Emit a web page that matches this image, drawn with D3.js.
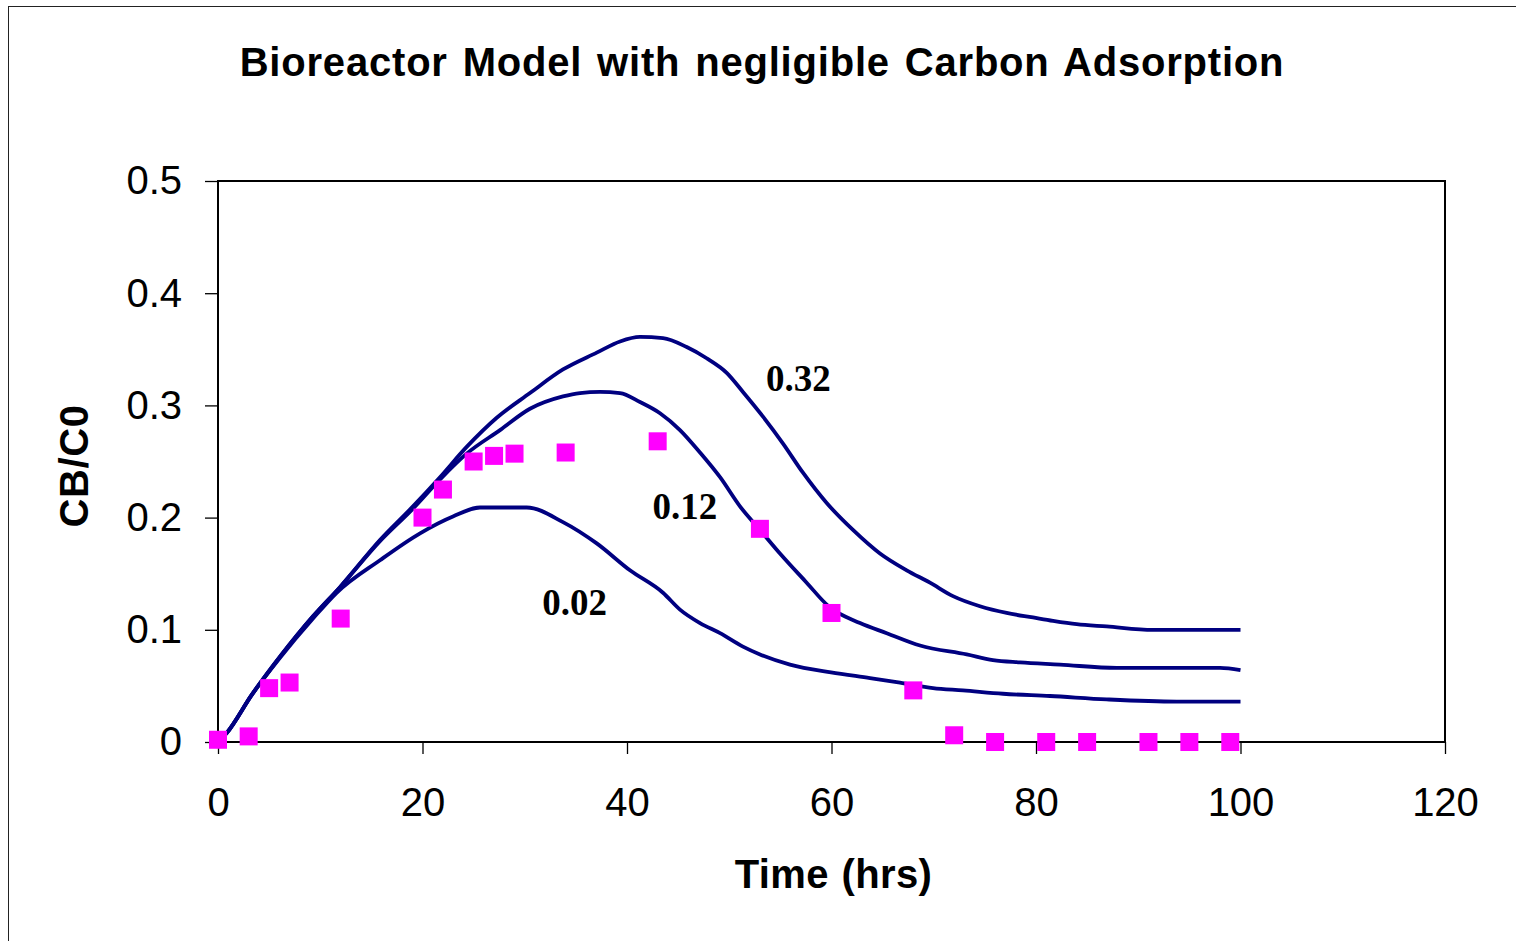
<!DOCTYPE html>
<html lang="en">
<head>
<meta charset="UTF-8">
<title>Bioreactor Model</title>
<script src="https://cdn.jsdelivr.net/npm/d3@7"></script>
<style>
  body { margin: 0; background: #fff; }
</style>
</head>
<body>
<svg id="chart" width="1516" height="941"></svg>
<script>
// measured points, CB/C0 vs time
const obsTime = [0, 3, 5, 7, 12, 20, 22, 25, 27, 29, 34, 43, 53, 60, 68, 72, 76, 81, 85, 91, 95, 99];
const obsConc = [0.002, 0.005, 0.048, 0.053, 0.11, 0.2, 0.225, 0.25, 0.255, 0.257, 0.258, 0.268, 0.19, 0.115, 0.046, 0.006, 0, 0, 0, 0, 0, 0];

// model curves
const t032 = [0, 0.85, 3.3, 6.06, 9.29, 11.93, 15.84, 19.07, 21.71, 24.32, 27.26, 30.51, 33.74, 37.04, 39.32, 41.27, 43.52, 45.84, 47.79, 49.75, 51.34, 53.3, 55.26, 57.21, 59.53, 62.1, 64.74, 67.35, 69.63, 71.88, 74.52, 77.13, 79.71, 81.66, 83.98, 86.91, 91.44, 100];
const c032 = [0, 0.008, 0.042, 0.076, 0.112, 0.138, 0.18, 0.21, 0.236, 0.263, 0.289, 0.311, 0.332, 0.347, 0.357, 0.361, 0.36, 0.352, 0.342, 0.329, 0.312, 0.29, 0.266, 0.24, 0.213, 0.189, 0.168, 0.153, 0.142, 0.13, 0.121, 0.115, 0.111, 0.108, 0.105, 0.103, 0.1, 0.1];

const t012 = [0, 0.85, 3.3, 6.06, 9.29, 11.93, 15.84, 19.07, 21.71, 24.32, 27.58, 30.51, 33.74, 35.4, 37.36, 39.32, 41.27, 43.23, 45.18, 47.14, 49.1, 51.05, 53.01, 54.96, 57.57, 59.71, 62.79, 65.4, 68.66, 73.22, 75.79, 78.44, 82.35, 87.89, 98, 100];
const c012 = [0, 0.008, 0.042, 0.076, 0.112, 0.138, 0.179, 0.208, 0.234, 0.257, 0.278, 0.297, 0.308, 0.311, 0.312, 0.311, 0.303, 0.293, 0.278, 0.258, 0.236, 0.21, 0.189, 0.168, 0.142, 0.121, 0.106, 0.097, 0.086, 0.078, 0.073, 0.071, 0.069, 0.066, 0.066, 0.064];

const t002 = [0, 0.85, 3.3, 6.06, 9.29, 11.6, 15.84, 19.76, 22.98, 25.62, 30.19, 33.74, 37.04, 40.29, 43.52, 45.18, 47.14, 49.1, 51.34, 53.01, 55.94, 59.95, 63.77, 66.7, 69.93, 72.86, 76.77, 81.37, 86.91, 93.76, 100];
const c002 = [0, 0.008, 0.042, 0.075, 0.11, 0.133, 0.162, 0.186, 0.201, 0.209, 0.209, 0.196, 0.177, 0.153, 0.133, 0.118, 0.106, 0.097, 0.085, 0.078, 0.069, 0.062, 0.057, 0.053, 0.048, 0.046, 0.043, 0.041, 0.038, 0.036, 0.036];

const curveNames = ["0.32", "0.12", "0.02"];
const labelTime = [53.6, 42.5, 31.7];
const labelConc = [0.313, 0.199, 0.113];

const xTicks = [0, 20, 40, 60, 80, 100, 120];
const yTicks = [0, 0.1, 0.2, 0.3, 0.4, 0.5];

const margin = {left: 218, top: 181, right: 71, bottom: 199};
const width = 1516 - margin.left - margin.right;
const height = 941 - margin.top - margin.bottom;

const svg = d3.select("#chart");

// outer chart border (only left/top edges fall inside the window)
svg.append("rect")
  .attr("x", 8.5).attr("y", 6.5)
  .attr("width", 1600).attr("height", 1000)
  .attr("fill", "none").attr("stroke", "#222").attr("stroke-width", 1);

svg.append("text")
  .attr("x", 762).attr("y", 76)
  .attr("text-anchor", "middle")
  .style("font-family", "'Liberation Sans', Arial, sans-serif")
  .style("font-weight", "bold")
  .style("font-size", "40px")
  .style("letter-spacing", "0.8px")
  .style("word-spacing", "3px")
  .text("Bioreactor Model with negligible Carbon Adsorption");

const g = svg.append("g").attr("transform", `translate(${margin.left},${margin.top})`);

const x = d3.scaleLinear().domain([0, 120]).range([0, width]);
const y = d3.scaleLinear().domain([0, 0.5]).range([height, 0]);

const xAxis = g.append("g")
  .attr("transform", `translate(0,${height})`)
  .call(d3.axisBottom(x).tickValues(xTicks).tickSize(12).tickSizeOuter(0).tickPadding(34));
const yAxis = g.append("g")
  .call(d3.axisLeft(y).tickValues(yTicks).tickSize(13).tickSizeOuter(0).tickPadding(23)
    .tickFormat(d => d === 0 ? "0" : d3.format(".1f")(d)));

[xAxis, yAxis].forEach(a => {
  a.select(".domain").remove();
  a.selectAll(".tick line").attr("stroke", "#000").attr("stroke-width", 1.3);
  a.selectAll(".tick text")
    .attr("fill", "#000")
    .style("font-family", "'Liberation Sans', Arial, sans-serif")
    .style("font-size", "40px");
});

// plot frame
g.append("rect")
  .attr("width", width).attr("height", height)
  .attr("fill", "none").attr("stroke", "#000").attr("stroke-width", 2);

const line = d3.line().x(d => x(d[0])).y(d => y(d[1])).curve(d3.curveMonotoneX);
const series = [[t032, c032], [t012, c012], [t002, c002]];
series.forEach(([ts, cs]) => {
  g.append("path")
    .datum(ts.map((t, i) => [t, cs[i]]))
    .attr("d", line)
    .attr("fill", "none")
    .attr("stroke", "#000080")
    .attr("stroke-width", 3.8)
    .attr("stroke-linejoin", "round");
});

const sq = 18;
g.selectAll("rect.obs")
  .data(obsTime.map((t, i) => [t, obsConc[i]]))
  .join("rect")
  .attr("class", "obs")
  .attr("x", d => x(d[0]) - sq / 2)
  .attr("y", d => y(d[1]) - sq / 2)
  .attr("width", sq).attr("height", sq)
  .attr("fill", "#ff00ff");

g.selectAll("text.curve-label")
  .data(curveNames)
  .join("text")
  .attr("class", "curve-label")
  .attr("x", (d, i) => x(labelTime[i]))
  .attr("y", (d, i) => y(labelConc[i]))
  .style("font-family", "'Liberation Serif', 'Times New Roman', serif")
  .style("font-weight", "bold")
  .style("font-size", "37px")
  .text(d => d);

svg.append("text")
  .attr("x", margin.left + width / 2 + 2).attr("y", 888)
  .attr("text-anchor", "middle")
  .style("font-family", "'Liberation Sans', Arial, sans-serif")
  .style("font-weight", "bold")
  .style("font-size", "40px")
  .style("letter-spacing", "0.4px")
  .style("word-spacing", "1px")
  .text("Time (hrs)");

svg.append("text")
  .attr("transform", "translate(88,466) rotate(-90)")
  .attr("text-anchor", "middle")
  .style("font-family", "'Liberation Sans', Arial, sans-serif")
  .style("font-weight", "bold")
  .style("font-size", "40px")
  .style("letter-spacing", "0.6px")
  .text("CB/C0");
</script>
</body>
</html>
